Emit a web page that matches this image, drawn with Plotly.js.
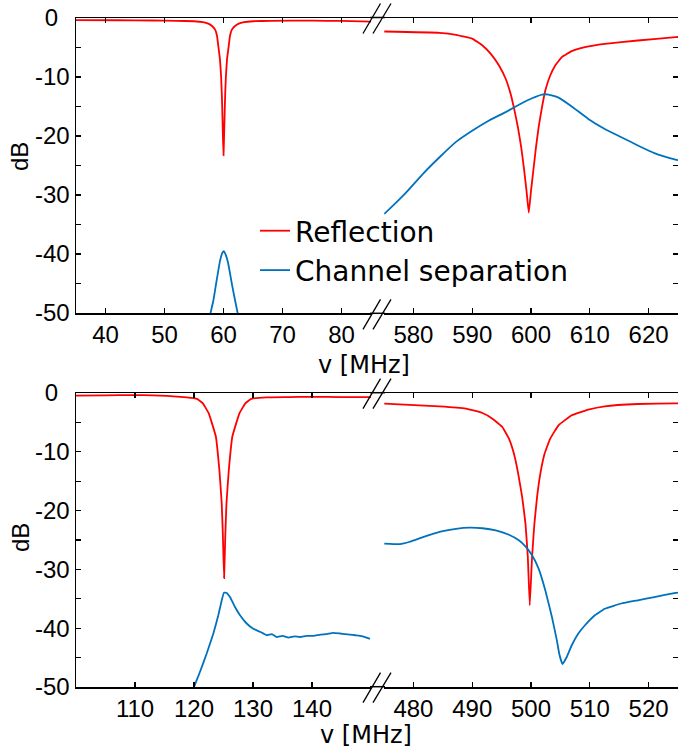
<!DOCTYPE html>
<html><head><meta charset="utf-8">
<script src="https://cdn.plot.ly/plotly-3.0.1.min.js"></script>
<style>html,body{margin:0;padding:0;background:#fff}</style>
</head><body><div id="chart" style="width:678px;height:751px"></div>
<script>
// ---------- data ----------
const seriesNames = ["Reflection", "Channel separation"];

// top panel, low band (MHz)
const tlReflF = [35,42,48,52,55,56.5,57.5,58.1,58.6,58.9,59.15,59.4,59.6,59.75,59.9,60,60.1,60.25,60.4,60.6,60.85,61.1,61.4,61.9,62.5,63.5,65,68,75,80,85];
const tlReflDb = [-0.35,-0.38,-0.42,-0.48,-0.55,-0.7,-1.0,-1.4,-2.0,-3.0,-5.0,-7.0,-10,-14,-20,-23.3,-20,-14,-10,-7,-5,-3,-2,-1.4,-1.0,-0.7,-0.55,-0.48,-0.45,-0.5,-0.6];
const tlSepF = [57.3,57.8,58.3,58.85,59.4,59.8,60.05,60.4,60.8,61.5,61.95,62.4,62.9];
const tlSepDb = [-52,-50,-47.8,-44.4,-41.2,-39.8,-39.5,-40.2,-41.6,-45.5,-47.8,-50,-52];

// top panel, high band
const trReflF = [575.05,584.44,587.25,590.06,591.75,593.16,594.56,595.69,596.53,597.2,597.77,598.33,598.78,599.23,599.62,600.01,600.46,600.85,601.3,601.87,602.43,603.27,604.12,605.24,606.93,609.18,612.55,618.17,624.58,625];
const trReflDb = [-2.29,-2.51,-2.85,-3.53,-4.66,-6.07,-8.05,-10.3,-12.85,-15.7,-18.5,-21.9,-25.3,-29.2,-33.0,-29.2,-25.3,-21.9,-18.5,-15.1,-12.3,-9.75,-8.05,-6.64,-5.62,-4.94,-4.38,-3.81,-3.25,-3.22];
const trSepF = [575.05,577.14,578.82,581.63,584.44,587.25,590.06,592.87,595.69,598.5,600.18,601.87,603,604.68,606.93,609.74,612.55,615.36,618.17,620.98,624.58,625];
const trSepDb = [-33.2,-31.2,-29.5,-26.4,-23.6,-21.0,-19.07,-17.37,-15.96,-14.4,-13.6,-12.97,-12.97,-13.5,-15.0,-17.1,-18.8,-20.2,-21.6,-22.9,-24.0,-24.1];

// bottom panel, low band
const blReflF = [100,105,109.7,113,115.4,118.8,120.5,121.5,122.5,123.7,124.3,124.7,124.9,125.1,125.3,125.5,125.9,126.5,127.7,128.7,129.7,132.3,136,140,145,150];
const blReflDb = [-0.45,-0.4,-0.35,-0.4,-0.5,-0.75,-1.0,-1.75,-3.45,-7.4,-13.1,-18.8,-24.4,-31.5,-24.4,-18.8,-13.1,-7.4,-3.45,-1.75,-1.0,-0.75,-0.7,-0.65,-0.7,-0.7];
const blSepF = [119.7,120,121.02,122.15,123.28,124.12,124.69,125.08,125.54,126.1,126.95,127.8,128.93,130.06,131.19,132.32,133.2,134.01,135,136,137,137.97,139.1,140.23,141.4,142.49,143.6,144.75,145.6,146.44,147.3,148.14,149,149.83];
const blSepDb = [-51,-50,-47.4,-44.3,-40.9,-37.8,-35.3,-33.95,-34.0,-34.7,-36.4,-37.8,-39.2,-40.1,-40.6,-41.2,-41.0,-41.5,-41.3,-41.6,-41.4,-41.5,-41.3,-41.3,-41.1,-41.0,-40.8,-40.9,-41.0,-41.1,-41.2,-41.3,-41.5,-41.8];

// bottom panel, high band
const brReflF = [475.05,484.44,488.94,491.75,493.44,495.12,496.25,497.09,497.82,498.5,499.06,499.46,499.79,500.18,500.58,501.03,501.59,502.32,503.27,504.68,506.93,509.74,512.55,518.17,524.58,525];
const brReflDb = [-1.81,-2.26,-2.66,-3.4,-4.36,-5.78,-7.76,-10.3,-13.7,-17.7,-22.2,-27.9,-36.1,-27.9,-22.2,-17.7,-13.7,-10.3,-7.76,-5.49,-3.79,-2.83,-2.26,-1.87,-1.75,-1.75];
const brSepF = [475.05,477.7,479.38,481.63,484.44,487.25,489.5,491.75,494.0,496.25,497.93,499.06,500.18,501.31,502.43,503.56,504.4,504.79,505.35,506.08,506.93,508.05,509.18,510.86,512.55,515.36,518.17,520.98,524.58,525];
const brSepDb = [-25.6,-25.7,-25.3,-24.5,-23.6,-23.1,-22.9,-23.0,-23.35,-24.1,-25.05,-26.1,-27.6,-29.9,-33.55,-38.1,-42.06,-44.3,-46.1,-44.9,-42.9,-40.9,-39.5,-37.8,-36.7,-35.8,-35.25,-34.7,-34.0,-33.95];

// axis ticks
const yTickVals = [0,-5,-10,-15,-20,-25,-30,-35,-40,-45,-50];
const yTickText = ["0\u00a0\u2009","","-10","","-20","","-30","","-40","","-50"];
const xTicksTL = [40,50,60,70,80];
const xTicksTR = [580,590,600,610,620];
const xTicksBL = [110,120,130,140];
const xTicksBR = [480,490,500,510,520];

// ---------- layout helpers ----------
const W = 678, H = 751;
const px = x => x / W;
const py = y => 1 - y / H;
const RED = "#ff0000", BLUE = "#0072bd";
const FONT = "DejaVu Sans";
const TFONT = "Liberation Sans";

function line(xs, ys, color, xa, ya, name, showlegend) {
  return {x: xs, y: ys, type: "scatter", mode: "lines", name: name, showlegend: showlegend,
          xaxis: xa, yaxis: ya, line: {color: color, width: 1.8, shape: "spline", smoothing: 0.3},
          hoverinfo: "skip"};
}

const data = [
  line(tlReflF, tlReflDb, RED, "x", "y", seriesNames[0], true),
  line(tlSepF, tlSepDb, BLUE, "x", "y", seriesNames[1], true),
  line(trReflF, trReflDb, RED, "x2", "y2", seriesNames[0], false),
  line(trSepF, trSepDb, BLUE, "x2", "y2", seriesNames[1], false),
  line(blReflF, blReflDb, RED, "x3", "y3", seriesNames[0], false),
  line(blSepF, blSepDb, BLUE, "x3", "y3", seriesNames[1], false),
  line(brReflF, brReflDb, RED, "x4", "y4", seriesNames[0], false),
  line(brSepF, brSepDb, BLUE, "x4", "y4", seriesNames[1], false)
];

const tickFont = {family: TFONT, size: 24, color: "#000"};
function xax(domain, anchor, range, tv) {
  return {domain: domain, anchor: anchor, range: range, tickmode: "array", tickvals: tv,
          ticktext: tv.map(String), ticks: "inside", ticklen: 5, tickwidth: 1.2, tickcolor: "#000",
          showline: true, linecolor: "#000", linewidth: 1.5, mirror: "ticks",
          showgrid: false, zeroline: false, tickfont: tickFont, fixedrange: true};
}
function yaxLeft(domain, anchor) {
  return {domain: domain, anchor: anchor, range: [-50, 0], tickmode: "array",
          tickvals: yTickVals, ticktext: yTickText, ticks: "inside", ticklen: 5, tickwidth: 1.2,
          tickcolor: "#000", showline: true, linecolor: "#000", linewidth: 1.5,
          showgrid: false, zeroline: false, tickfont: tickFont, fixedrange: true};
}
function yaxRight(domain, anchor) {
  return {domain: domain, anchor: anchor, side: "right", range: [-50, 0], tickmode: "array",
          tickvals: yTickVals, showticklabels: false, ticks: "inside", ticklen: 5, tickwidth: 1.2,
          tickcolor: "#000", showline: false, showgrid: false, zeroline: false, fixedrange: true};
}

const xL = [px(76), px(371)], xR = [px(384), 1];
const yTop = [py(313), py(18)], yBot = [py(687), py(393)];

// decorative break marks and bridging axis lines
const shapes = [];
function bridge(yPix) {
  shapes.push({type: "line", xref: "paper", yref: "paper", x0: px(370), x1: px(385),
               y0: py(yPix), y1: py(yPix), line: {color: "#000", width: 1.5}});
}
function breakMark(yPix) {
  const c = yPix + 1;
  shapes.push({type: "line", xref: "paper", yref: "paper", x0: px(363), y0: py(c + 15),
               x1: px(380.5), y1: py(c - 15), line: {color: "#000", width: 1.3}});
  shapes.push({type: "line", xref: "paper", yref: "paper", x0: px(373), y0: py(c + 15),
               x1: px(391), y1: py(c - 15), line: {color: "#000", width: 1.3}});
}
[17.5, 313.3, 392.7, 686.7].forEach(y => { bridge(y); breakMark(y); });

const titleFont = {family: FONT, size: 24, color: "#000"};
const yTitleFont = {family: TFONT, size: 24, color: "#000"};
const annotations = [
  {text: "v [MHz]", xref: "paper", yref: "paper", x: px(364), y: py(365), xanchor: "center", yanchor: "middle", showarrow: false, font: titleFont},
  {text: "v [MHz]", xref: "paper", yref: "paper", x: px(366), y: py(735), xanchor: "center", yanchor: "middle", showarrow: false, font: titleFont},
  {text: "dB", xref: "paper", yref: "paper", x: px(19), y: py(157), xanchor: "center", yanchor: "middle", textangle: -90, showarrow: false, font: yTitleFont},
  {text: "dB", xref: "paper", yref: "paper", x: px(20), y: py(538), xanchor: "center", yanchor: "middle", textangle: -90, showarrow: false, font: yTitleFont}
];

const layout = {
  width: W, height: H, margin: {l: 0, r: 0, t: 0, b: 0},
  paper_bgcolor: "#fff", plot_bgcolor: "rgba(0,0,0,0)",
  font: {family: FONT, color: "#000"},
  xaxis: xax(xL, "y", [35, 85], xTicksTL),
  yaxis: yaxLeft(yTop, "x"),
  xaxis2: xax(xR, "y2", [575, 625], xTicksTR),
  yaxis2: yaxRight(yTop, "x2"),
  xaxis3: xax(xL, "y3", [100, 150], xTicksBL),
  yaxis3: yaxLeft(yBot, "x3"),
  xaxis4: xax(xR, "y4", [475, 525], xTicksBR),
  yaxis4: yaxRight(yBot, "x4"),
  showlegend: true,
  legend: {x: px(255), y: py(206), xanchor: "left", yanchor: "top", bgcolor: "rgba(0,0,0,0)",
           borderwidth: 0, font: {family: FONT, size: 28, color: "#000"}, itemwidth: 30,
           tracegroupgap: 0},
  shapes: shapes,
  annotations: annotations
};

Plotly.newPlot("chart", data, layout, {staticPlot: true, displayModeBar: false});
</script>
</body></html>
